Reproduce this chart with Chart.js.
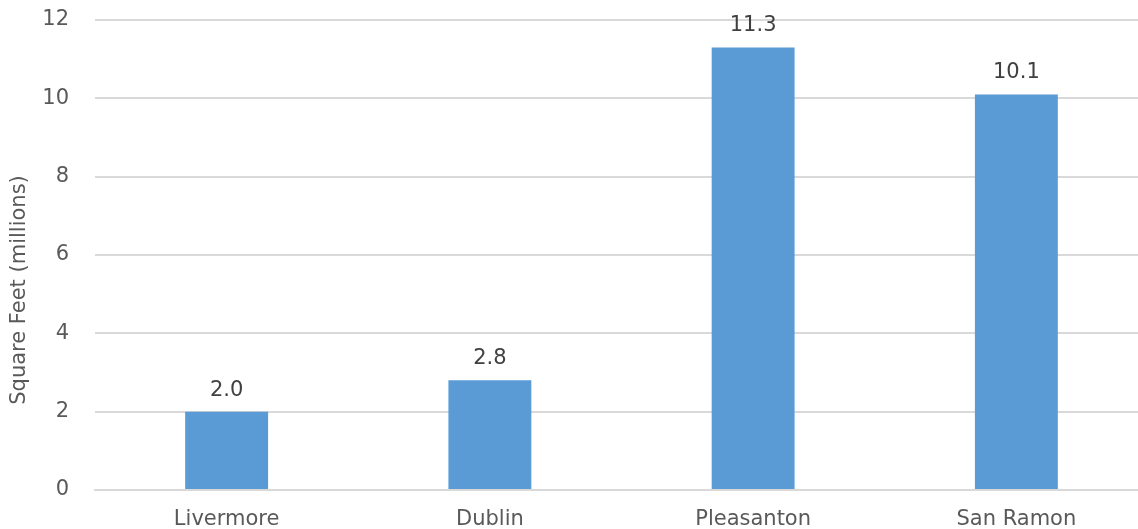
<!DOCTYPE html>
<html>
<head>
<meta charset="utf-8">
<script src="https://cdn.jsdelivr.net/npm/chart.js@4"></script>
<style>
  body { margin: 0; background: #fff; overflow: hidden; }
  #wrap { width: 1138px; height: 529px; overflow: hidden; }
</style>
</head>
<body>
<div id="wrap"><canvas id="chart" width="1148" height="529"></canvas></div>
<script>
// data
const cities = ['Livermore', 'Dublin', 'Pleasanton', 'San Ramon'];
const squareFeet = [2.0, 2.8, 11.3, 10.1];
const yTicks = [0, 2, 4, 6, 8, 10, 12];
const yTitle = 'Square Feet (millions)';

const FONT = '"DejaVu Sans", Verdana, sans-serif';

// value labels above each bar + the rotated y title
const barLabels = {
    id: 'barLabels',
    afterDatasetsDraw(chart) {
        const ctx = chart.ctx;
        const meta = chart.getDatasetMeta(0);
        ctx.save();
        ctx.font = '21px ' + FONT;
        ctx.fillStyle = '#404040';
        ctx.textAlign = 'center';
        ctx.textBaseline = 'alphabetic';
        meta.data.forEach(function(bar, i) {
            ctx.fillText(squareFeet[i].toFixed(1), bar.x, bar.y - 16);
        });
        ctx.restore();

        ctx.save();
        ctx.font = '21px ' + FONT;
        ctx.fillStyle = '#595959';
        ctx.textAlign = 'center';
        ctx.textBaseline = 'middle';
        ctx.translate(20, 290);
        ctx.rotate(-Math.PI / 2);
        ctx.fillText(yTitle, 0, 0);
        ctx.restore();
    }
};

const ctx = document.getElementById('chart').getContext('2d');
new Chart(ctx, {
    type: 'bar',
    data: {
        labels: cities,
        datasets: [{
            data: squareFeet,
            backgroundColor: '#5B9BD5',
            barPercentage: 0.315,
            categoryPercentage: 1
        }]
    },
    options: {
        responsive: false,
        animation: false,
        layout: { padding: 0 },
        plugins: {
            legend: { display: false },
            tooltip: { enabled: false }
        },
        scales: {
            x: {
                grid: { display: false, drawTicks: false },
                border: { color: '#d9d9d9', width: 2 },
                ticks: {
                    color: '#595959',
                    font: { family: FONT, size: 21 },
                    padding: 17
                },
                afterFit: function(axis) { axis.height = 39; }
            },
            y: {
                min: 0,
                max: 12,
                afterBuildTicks: function(axis) {
                    axis.ticks = yTicks.map(function(v) { return { value: v }; });
                },
                grid: { color: '#d9d9d9', lineWidth: 2, drawTicks: false },
                border: { display: false },
                ticks: {
                    color: '#595959',
                    font: { family: FONT, size: 21 },
                    padding: 26
                },
                afterFit: function(axis) {
                    axis.width = 95;
                    axis.paddingTop = 20;
                    axis.paddingBottom = 12;
                }
            }
        }
    },
    plugins: [barLabels]
});
</script>
</body>
</html>
